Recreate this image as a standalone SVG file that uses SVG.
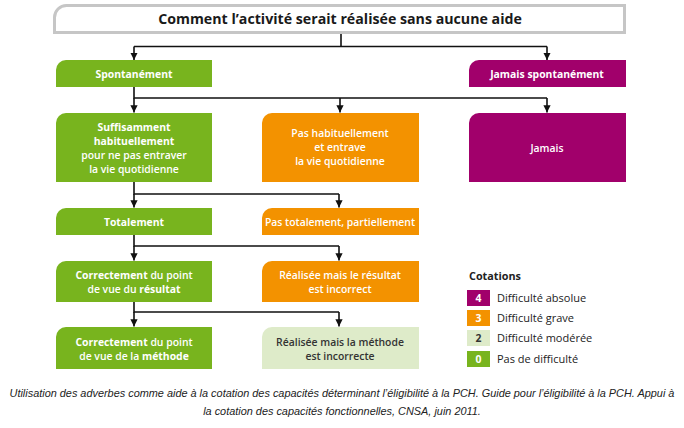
<svg xmlns="http://www.w3.org/2000/svg" width="684" height="428" viewBox="0 0 684 428">
<style>
text{font-family:"Open Sans","Noto Sans","Liberation Sans",sans-serif}
.g{fill:#78b41e}.o{fill:#f39200}.p{fill:#a1006b}.lg{fill:#deebc9}
.w{fill:#ffffff;font-size:10.4px;font-weight:600;text-anchor:middle}
.d{fill:#333333;font-size:10.4px;font-weight:600;text-anchor:middle}
.b{font-weight:bold}
.c{fill:none;stroke:#111;stroke-width:1.6}
.leg{fill:#222;font-size:11px}
.cap{font-family:"Liberation Sans",Arial,sans-serif;font-style:italic;font-size:10.9px;fill:#222;text-anchor:middle}
</style>
<defs>
<marker id="ah" viewBox="0 0 10 10" refX="10" refY="5" markerWidth="4.5" markerHeight="5" orient="auto" markerUnits="strokeWidth">
<path d="M0,0L10,5L0,10Z" fill="#111"/>
</marker>
</defs>
<rect width="684" height="428" fill="#ffffff"/>

<g id="title">
<path d="M54.5,17.5A12,12 0 0 1 66.5,5.5H624.5V32.5H54.5Z" fill="#fff" stroke="#c6c6c6" stroke-width="3"/>
<text x="340" y="24" text-anchor="middle" font-size="14.2" font-weight="bold" fill="#1a1a1a">Comment l’activité serait réalisée sans aucune aide</text>
</g>

<g id="connectors">
<path class="c" d="M341,34V46.5M134,46.5H547"/>
<path class="c" d="M134,46.5V60" marker-end="url(#ah)"/>
<path class="c" d="M547,46.5V60" marker-end="url(#ah)"/>
<path class="c" d="M134,87V98H547"/>
<path class="c" d="M134,98V112.5" marker-end="url(#ah)"/>
<path class="c" d="M340,98V112.5" marker-end="url(#ah)"/>
<path class="c" d="M547,98V112.5" marker-end="url(#ah)"/>
<path class="c" d="M134,182V194H339"/>
<path class="c" d="M134,194V207.5" marker-end="url(#ah)"/>
<path class="c" d="M339,194V207.5" marker-end="url(#ah)"/>
<path class="c" d="M134,235V246H339"/>
<path class="c" d="M134,246V260.5" marker-end="url(#ah)"/>
<path class="c" d="M339,246V260.5" marker-end="url(#ah)"/>
<path class="c" d="M134,302V312H339"/>
<path class="c" d="M134,312V326.5" marker-end="url(#ah)"/>
<path class="c" d="M339,312V326.5" marker-end="url(#ah)"/>
</g>

<g id="spontanement">
<path class="g" d="M56,70A10,10 0 0 1 66,60H212V87H56Z"/>
<text class="w b" x="134" y="77.5">Spontanément</text>
</g>
<g id="jamais-spontanement">
<path class="p" d="M469,70A10,10 0 0 1 479,60H626V87H469Z"/>
<text class="w b" x="547" y="77.5">Jamais spontanément</text>
</g>

<g id="suffisamment">
<path class="g" d="M56,123A10,10 0 0 1 66,113H212V182H56Z"/>
<text class="w b" x="134" y="131">Suffisamment</text>
<text class="w b" x="134" y="145">habituellement</text>
<text class="w" x="134" y="159">pour ne pas entraver</text>
<text class="w" x="134" y="173">la vie quotidienne</text>
</g>
<g id="pas-habituellement">
<path class="o" d="M262,123A10,10 0 0 1 272,113H419V182H262Z"/>
<text class="w" x="340" y="137">Pas habituellement</text>
<text class="w" x="340" y="151">et entrave</text>
<text class="w" x="340" y="165">la vie quotidienne</text>
</g>
<g id="jamais">
<path class="p" d="M469,123A10,10 0 0 1 479,113H626V182H469Z"/>
<text class="w" x="547" y="152">Jamais</text>
</g>

<g id="totalement">
<path class="g" d="M56,218A10,10 0 0 1 66,208H212V235H56Z"/>
<text class="w b" x="134" y="225.5">Totalement</text>
</g>
<g id="pas-totalement">
<path class="o" d="M262,218A10,10 0 0 1 272,208H419V235H262Z"/>
<text class="w" x="340" y="225.5">Pas totalement, partiellement</text>
</g>

<g id="correctement-resultat">
<path class="g" d="M56,271A10,10 0 0 1 66,261H212V302H56Z"/>
<text class="w" x="134" y="279"><tspan class="b">Correctement</tspan> du point</text>
<text class="w" x="134" y="293">de vue du <tspan class="b">résultat</tspan></text>
</g>
<g id="resultat-incorrect">
<path class="o" d="M262,271A10,10 0 0 1 272,261H419V302H262Z"/>
<text class="w" x="340" y="279">Réalisée mais le résultat</text>
<text class="w" x="340" y="293">est incorrect</text>
</g>

<g id="correctement-methode">
<path class="g" d="M56,337A10,10 0 0 1 66,327H212V369H56Z"/>
<text class="w" x="134" y="346"><tspan class="b">Correctement</tspan> du point</text>
<text class="w" x="134" y="360">de vue de la <tspan class="b">méthode</tspan></text>
</g>
<g id="methode-incorrecte">
<path class="lg" d="M262,337A10,10 0 0 1 272,327H419V369H262Z"/>
<text class="d" x="340" y="346">Réalisée mais la méthode</text>
<text class="d" x="340" y="360">est incorrecte</text>
</g>

<g id="legend">
<text x="469" y="280" font-size="10.8" font-weight="bold" fill="#222">Cotations</text>
<rect class="p" x="467" y="290" width="23" height="16"/>
<text class="w b" x="478.5" y="302">4</text>
<text class="leg" x="497" y="302">Difficulté absolue</text>
<rect class="o" x="467" y="310" width="23" height="16"/>
<text class="w b" x="478.5" y="322">3</text>
<text class="leg" x="497" y="322">Difficulté grave</text>
<rect class="lg" x="467" y="330" width="23" height="16"/>
<text class="d b" x="478.5" y="342">2</text>
<text class="leg" x="497" y="342">Difficulté modérée</text>
<rect class="g" x="467" y="351" width="23" height="16"/>
<text class="w b" x="478.5" y="363">0</text>
<text class="leg" x="497" y="363">Pas de difficulté</text>
</g>

<g id="caption">
<text class="cap" x="342" y="397">Utilisation des adverbes comme aide à la cotation des capacités déterminant l’éligibilité à la PCH. Guide pour l’éligibilité à la PCH. Appui à</text>
<text class="cap" x="342" y="415">la cotation des capacités fonctionnelles, CNSA, juin 2011.</text>
</g>
</svg>
